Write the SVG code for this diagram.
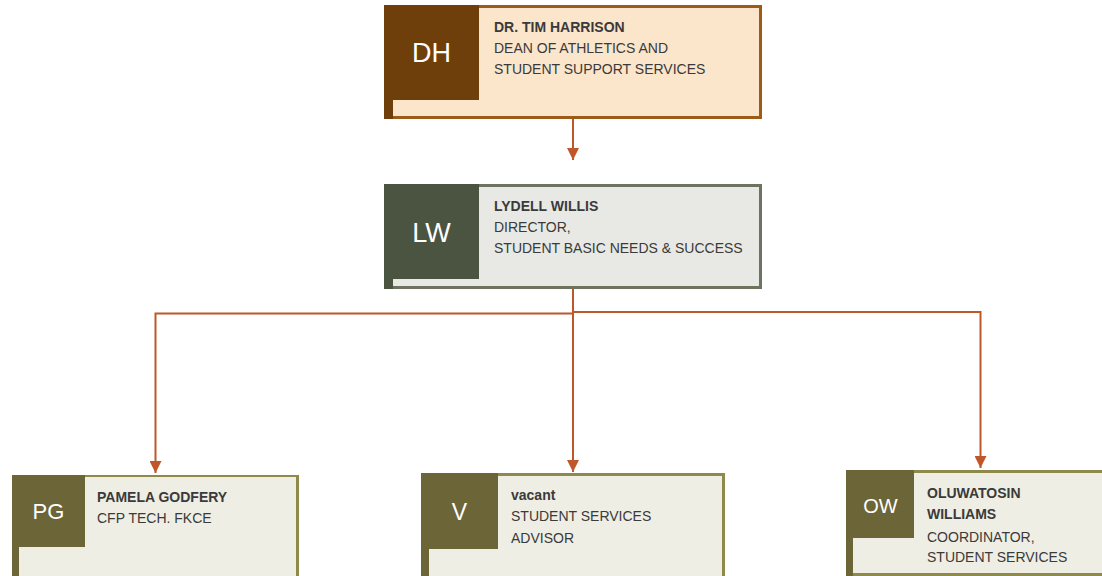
<svg xmlns="http://www.w3.org/2000/svg" width="1102" height="576" viewBox="0 0 1102 576">
  <defs>
    <marker id="arrow" markerUnits="userSpaceOnUse" markerWidth="12" markerHeight="12" refX="12" refY="6" orient="auto">
      <path d="M0,0 L12,6 L0,12 Z" fill="#c0572b"/>
    </marker>
    <style>
      .txt { font-family: "Liberation Sans", Arial, sans-serif; font-size: 14px; fill: #3a3a3a; }
      .name { font-weight: bold; }
      .ini { font-family: "Liberation Sans", Arial, sans-serif; fill: #ffffff; text-anchor: middle; }
      .conn { fill: none; stroke: #c0572b; stroke-width: 2; }
      .b-top { fill: #9c5b19; } .s-top { fill: #6e3f0b; } .f-top { fill: #fbe5cb; }
      .b-mid { fill: #6c735f; } .s-mid { fill: #4b5341; } .f-mid { fill: #e8e9e4; }
      .b-bot { fill: #8f8a49; } .s-bot { fill: #6c6537; } .f-bot { fill: #efeee4; }
    </style>
  </defs>
  <rect width="1102" height="576" fill="#ffffff"/>

  <g id="connectors">
    <path class="conn" d="M573,119 V160" marker-end="url(#arrow)"/>
    <path class="conn" d="M573,289 V472" marker-end="url(#arrow)"/>
    <path class="conn" d="M573,313.5 H155.5 V473" marker-end="url(#arrow)"/>
    <path class="conn" d="M573,312 H980.5 V468" marker-end="url(#arrow)"/>
  </g>

  <g id="node-dh">
    <rect class="b-top" x="384" y="5" width="378" height="114"/>
    <rect class="f-top" x="387" y="8" width="372" height="108"/>
    <rect class="s-top" x="384" y="5" width="95" height="95"/>
    <rect class="s-top" x="384" y="100" width="9" height="19"/>
    <text class="ini" x="431.5" y="62" font-size="27">DH</text>
    <text class="txt name" x="494" y="31.5">DR. TIM HARRISON</text>
    <text class="txt" x="494" y="52.5">DEAN OF ATHLETICS AND</text>
    <text class="txt" x="494" y="73.5">STUDENT SUPPORT SERVICES</text>
  </g>

  <g id="node-lw">
    <rect class="b-mid" x="384" y="184" width="378" height="105"/>
    <rect class="f-mid" x="387" y="187" width="372" height="99"/>
    <rect class="s-mid" x="384" y="184" width="95" height="95"/>
    <rect class="s-mid" x="384" y="279" width="9" height="10"/>
    <text class="ini" x="431.5" y="242" font-size="27">LW</text>
    <text class="txt name" x="494" y="211">LYDELL WILLIS</text>
    <text class="txt" x="494" y="232">DIRECTOR,</text>
    <text class="txt" x="494" y="253">STUDENT BASIC NEEDS &amp; SUCCESS</text>
  </g>

  <g id="node-pg">
    <rect class="b-bot" x="12" y="475" width="287" height="115"/>
    <rect class="f-bot" x="15" y="477" width="281" height="113"/>
    <rect class="s-bot" x="12" y="475" width="73" height="72"/>
    <rect class="s-bot" x="12" y="547" width="7" height="43"/>
    <text class="ini" x="48.5" y="518.5" font-size="22">PG</text>
    <text class="txt name" x="97" y="501.5">PAMELA GODFERY</text>
    <text class="txt" x="97" y="523">CFP TECH. FKCE</text>
  </g>

  <g id="node-v">
    <rect class="b-bot" x="421" y="473" width="304" height="117"/>
    <rect class="f-bot" x="424" y="476" width="298" height="114"/>
    <rect class="s-bot" x="421" y="473" width="77" height="76"/>
    <rect class="s-bot" x="421" y="549" width="8" height="41"/>
    <text class="ini" x="459.5" y="520" font-size="23">V</text>
    <text class="txt name" x="511" y="499.5">vacant</text>
    <text class="txt" x="511" y="521">STUDENT SERVICES</text>
    <text class="txt" x="511" y="542.5">ADVISOR</text>
  </g>

  <g id="node-ow">
    <rect class="b-bot" x="846" y="470" width="270" height="106"/>
    <rect class="f-bot" x="849" y="473" width="270" height="100"/>
    <rect class="s-bot" x="846" y="470" width="68" height="68"/>
    <rect class="s-bot" x="846" y="538" width="7" height="38"/>
    <text class="ini" x="880.5" y="512.5" font-size="20">OW</text>
    <text class="txt name" x="927" y="497.5">OLUWATOSIN</text>
    <text class="txt name" x="927" y="518.5">WILLIAMS</text>
    <text class="txt" x="927" y="541.5">COORDINATOR,</text>
    <text class="txt" x="927" y="562">STUDENT SERVICES</text>
  </g>
</svg>
